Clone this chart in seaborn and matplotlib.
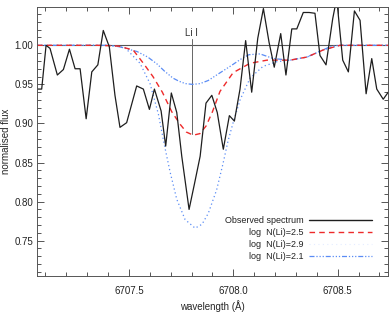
"""
Li I 6707.8 region: observed spectrum vs synthetic spectra
"""

import matplotlib
matplotlib.use("Agg")
import matplotlib.pyplot as plt
from matplotlib.lines import Line2D
from matplotlib.ticker import MultipleLocator
import seaborn as sns
import pandas as pd

# observed spectrum
obs_wave = [6707.061, 6707.082, 6707.103, 6707.122, 6707.157, 6707.186, 6707.215,
            6707.242, 6707.266, 6707.295, 6707.322, 6707.351, 6707.377, 6707.406,
            6707.433, 6707.457, 6707.489, 6707.537, 6707.569, 6707.598, 6707.622,
            6707.654, 6707.676, 6707.703, 6707.729, 6707.753, 6707.788, 6707.814,
            6707.841, 6707.869, 6707.897, 6707.923, 6707.952, 6707.981, 6708.005,
            6708.032, 6708.059, 6708.088, 6708.117, 6708.144, 6708.171, 6708.196,
            6708.227, 6708.252, 6708.280, 6708.304, 6708.335, 6708.363, 6708.391,
            6708.415, 6708.444, 6708.476, 6708.495, 6708.524, 6708.551, 6708.580,
            6708.607, 6708.636, 6708.663, 6708.687, 6708.718, 6708.742]
obs_flux = [0.944, 0.944, 1.000, 0.996, 0.962, 0.969, 0.995,
            0.970, 0.970, 0.906, 0.966, 0.975, 1.019, 0.998,
            0.936, 0.895, 0.901, 0.948, 0.944, 0.918, 0.944,
            0.916, 0.871, 0.939, 0.914, 0.858, 0.790, 0.823,
            0.858, 0.926, 0.936, 0.914, 0.867, 0.910, 0.903,
            0.944, 1.006, 0.940, 1.009, 1.047, 1.004, 0.972,
            1.015, 0.962, 1.021, 1.021, 1.042, 1.042, 1.041,
            0.987, 0.975, 1.034, 1.060, 0.981, 0.966, 1.044,
            1.032, 0.938, 0.983, 0.944, 0.931, 0.940]

# log N(Li)=2.5
syn25_wave = [6707.06, 6707.35, 6707.45, 6707.520, 6707.569, 6707.615, 6707.660,
              6707.705, 6707.745, 6707.775, 6707.808, 6707.840, 6707.870, 6707.900,
              6707.936, 6707.999, 6708.080, 6708.161, 6708.272, 6708.353, 6708.430,
              6708.511, 6708.75]
syn25_flux = [1.000, 1.000, 0.999, 0.994, 0.977, 0.960, 0.940,
              0.915, 0.899, 0.889, 0.885, 0.887, 0.897, 0.915,
              0.941, 0.965, 0.977, 0.981, 0.981, 0.985, 0.994,
              1.000, 1.000]

# log N(Li)=2.9
syn29_wave = [6707.06, 6707.41, 6707.481, 6707.553, 6707.601, 6707.641, 6707.670,
              6707.697, 6707.729, 6707.769, 6707.817, 6707.850, 6707.880, 6707.920,
              6707.950, 6707.975, 6707.999, 6708.032, 6708.080, 6708.142, 6708.209,
              6708.272, 6708.353, 6708.430, 6708.511, 6708.75]
syn29_flux = [1.000, 1.000, 0.997, 0.977, 0.951, 0.912, 0.872,
              0.838, 0.803, 0.777, 0.766, 0.771, 0.785, 0.815,
              0.848, 0.878, 0.901, 0.930, 0.958, 0.973, 0.979,
              0.981, 0.985, 0.994, 1.000, 1.000]

# log N(Li)=2.1
syn21_wave = [6707.06, 6707.40, 6707.457, 6707.539, 6707.590, 6707.635, 6707.670,
              6707.711, 6707.740, 6707.770, 6707.805, 6707.841, 6707.880, 6707.920,
              6707.984, 6708.040, 6708.075, 6708.128, 6708.192, 6708.272, 6708.353,
              6708.462, 6708.50, 6708.75]
syn21_flux = [1.000, 1.000, 0.998, 0.992, 0.985, 0.976, 0.967,
              0.958, 0.954, 0.951, 0.950, 0.951, 0.955, 0.962,
              0.973, 0.983, 0.988, 0.989, 0.983, 0.981, 0.985,
              0.998, 1.000, 1.000]

li_wave = 6707.80
legend_labels = ["Observed spectrum", "log  N(Li)=2.5", "log  N(Li)=2.9", "log  N(Li)=2.1"]

sns.set_style("ticks")
plt.rcParams["font.family"] = ["Liberation Sans", "DejaVu Sans"]
axis_col = "#555555"
red = "#ee2a2a"
blue = "#5a8cf5"

fig = plt.figure(figsize=(3.91, 3.12), dpi=100)
ax = fig.add_axes([0.0954, 0.1154, 0.897, 0.8606])

ax.axhline(1.0, color="#555555", lw=0.8, zorder=1)
ax.plot([li_wave, li_wave], [0.886, 1.008], color="#666666", lw=0.7, zorder=1)
ax.text(li_wave, 1.009, "Li I", ha="center", va="bottom", fontsize=7, color="#333333")

sns.lineplot(x=syn29_wave, y=syn29_flux, ax=ax, color=blue, lw=0.9,
             linestyle=(0, (1, 2.2)), sort=False, estimator=None)
sns.lineplot(x=syn21_wave, y=syn21_flux, ax=ax, color=blue, lw=0.9,
             linestyle=(0, (4, 1.5, 1, 1.5, 1, 1.5, 1, 1.5)), sort=False, estimator=None)
sns.lineplot(x=syn25_wave, y=syn25_flux, ax=ax, color=red, lw=1.0,
             linestyle=(0, (4, 3)), sort=False, estimator=None)
sns.lineplot(x=obs_wave, y=obs_flux, ax=ax, color="#1e1e1e", lw=0.9,
             sort=False, estimator=None)

ax.set_xlim(6707.061, 6708.741)
ax.set_ylim(0.7048, 1.0484)
ax.xaxis.set_major_locator(MultipleLocator(0.5))
ax.xaxis.set_minor_locator(MultipleLocator(0.1))
ax.yaxis.set_major_locator(MultipleLocator(0.05))
ax.yaxis.set_minor_locator(MultipleLocator(0.01))
ax.xaxis.set_major_formatter(plt.FuncFormatter(lambda v, p: f"{v:.1f}"))
ax.yaxis.set_major_formatter(plt.FuncFormatter(lambda v, p: f"{v:.2f}"))
ax.tick_params(which="both", direction="in", top=True, right=True,
               color=axis_col, labelsize=7, labelcolor="#222222", width=0.7)
ax.tick_params(which="major", length=5)
ax.tick_params(which="minor", length=3)
ax.tick_params(axis="x", pad=7)
ax.tick_params(axis="y", pad=3)
for s in ax.spines.values():
    s.set_color(axis_col)
    s.set_linewidth(0.7)

ax.set_xlabel("wavelength (Å)", fontsize=7, labelpad=3)
ax.set_ylabel("normalised flux", fontsize=7, labelpad=2)

handles = [
    Line2D([], [], color="#1e1e1e", lw=1.0),
    Line2D([], [], color=red, lw=1.0, linestyle=(0, (4, 3))),
    Line2D([], [], color="#e4ecff", lw=0.8, linestyle=(0, (1, 3))),
    Line2D([], [], color=blue, lw=0.9, linestyle=(0, (4, 1.5, 1, 1.5, 1, 1.5, 1, 1.5))),
]
leg = ax.legend(handles, legend_labels, loc="lower right", bbox_to_anchor=(0.955, 0.055),
                frameon=False, markerfirst=False, handlelength=7.0, handletextpad=0.6,
                labelspacing=0.35, fontsize=6.5, borderpad=0, borderaxespad=0)
for t in leg.get_texts():
    t.set_color("#222222")

fig.savefig("out.png", dpi=100)
